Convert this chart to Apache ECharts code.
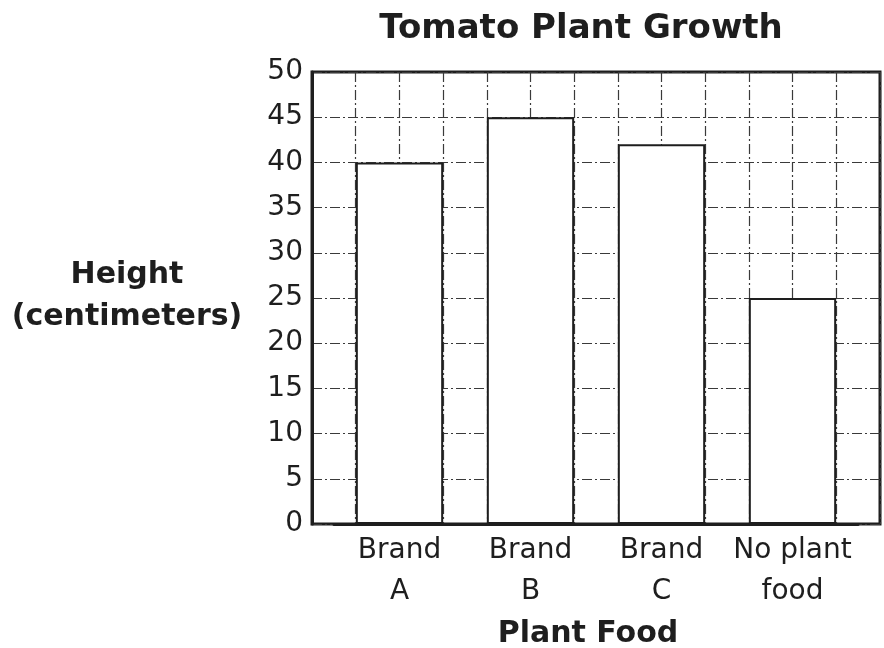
<!DOCTYPE html>
<html>
<head>
<meta charset="utf-8">
<script src="https://cdn.jsdelivr.net/npm/echarts@6/dist/echarts.min.js"></script>
<style>
html,body{margin:0;padding:0;background:#fff;}
#chart{width:884px;height:648px;}
</style>
</head>
<body>
<div id="chart"></div>
<script>
var categories = ['Brand\nA', 'Brand\nB', 'Brand\nC', 'No plant\nfood'];
var heights = [40, 45, 42, 25];
var yTicks = { min: 0, max: 50, interval: 5 };
var columnCount = 13;
var chartTitle = 'Tomato Plant Growth';
var yTitle = 'Height\n(centimeters)';
var xTitle = 'Plant Food';

var font = 'DejaVu Sans';
var ink = '#1e1e1e';
var gridDash = [10, 3, 2, 3];

var chart = echarts.init(document.getElementById('chart'));
chart.setOption({
  backgroundColor: '#ffffff',
  animation: false,
  title: [
    { text: chartTitle, left: 581, top: 9, textAlign: 'center', padding: 0,
      textStyle: { fontFamily: font, fontWeight: 'bold', fontSize: 34, lineHeight: 40, color: ink } },
    { text: yTitle, left: 127, top: 254, textAlign: 'center', padding: 0,
      textStyle: { fontFamily: font, fontWeight: 'bold', fontSize: 30, lineHeight: 42, color: ink } },
    { text: xTitle, left: 588, top: 616, textAlign: 'center', padding: 0,
      textStyle: { fontFamily: font, fontWeight: 'bold', fontSize: 30, lineHeight: 36, color: ink } }
  ],
  grid: [
    { left: 312, right: 4, top: 72, bottom: 124, show: true, borderColor: ink, borderWidth: 3, backgroundColor: 'transparent' },
    { left: 334, right: 26, top: 72, bottom: 124 }
  ],
  xAxis: [
    { type: 'value', gridIndex: 0, min: 0, max: columnCount, interval: 1,
      axisLine: { show: false }, axisTick: { show: false }, axisLabel: { show: false },
      splitLine: { show: true, lineStyle: { color: '#3a3a3a', width: 1.2, type: gridDash } } },
    { type: 'category', gridIndex: 1, data: categories, z: 10,
      axisLine: { show: true, lineStyle: { color: ink, width: 3 } },
      axisTick: { show: false },
      axisLabel: { fontFamily: font, fontSize: 28, lineHeight: 41, color: ink, margin: 6, interval: 0 } }
  ],
  yAxis: [
    { type: 'value', gridIndex: 0, min: yTicks.min, max: yTicks.max, interval: yTicks.interval,
      axisLine: { show: true, lineStyle: { color: ink, width: 3 } }, axisTick: { show: false },
      axisLabel: { fontFamily: font, fontSize: 28, color: ink, margin: 9 },
      splitLine: { show: true, lineStyle: { color: '#3a3a3a', width: 1.2, type: gridDash } } },
    { type: 'value', gridIndex: 1, min: yTicks.min, max: yTicks.max, interval: yTicks.interval,
      axisLine: { show: false }, axisTick: { show: false }, axisLabel: { show: false }, splitLine: { show: false } }
  ],
  series: [
    { type: 'bar', xAxisIndex: 1, yAxisIndex: 1, data: heights, barWidth: '66.67%',
      itemStyle: { color: '#ffffff', borderColor: ink, borderWidth: 2 } }
  ]
});
</script>
</body>
</html>
